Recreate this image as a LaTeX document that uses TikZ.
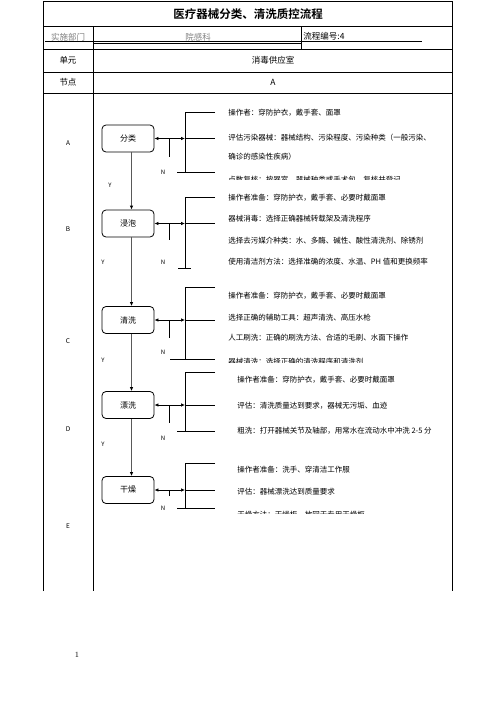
\documentclass[tikz,border=0pt]{standalone}
\usepackage{fontspec}
\newfontfamily\cjk{Noto Sans CJK SC}
\newfontfamily\cjkbf{Noto Sans CJK SC Bold}
\usetikzlibrary{arrows.meta}

\begin{document}
\begin{tikzpicture}[x=1pt, y=-1pt, line width=.8pt,
		stepbox/.style={draw, rounded corners=4pt, minimum width=52pt, minimum height=27pt, inner sep=0pt, font=\cjk\fontsize{8}{9}\selectfont},
		cell/.style={inner sep=0pt, font=\cjk\fontsize{8.5}{10}\selectfont},
		note/.style={anchor=west, inner sep=0pt, font=\cjk\fontsize{7.5}{9}\selectfont},
		yn/.style={inner sep=0pt, font=\cjk\fontsize{6}{7}\selectfont},
		flow/.style={draw=black!65, line width=.9pt, -{Latex[length=4pt,width=3.5pt,color=black]}},
		twoway/.style={line width=.7pt, {Latex[length=4pt,width=3.5pt]}-{Latex[length=4pt,width=3.5pt]}}]
	\useasboundingbox (0,0) rectangle (496,702);
	% table
	\draw (43,591) -- (43,1.5) -- (452,1.5) -- (452,591);
	\draw (93,26) -- (93,591);
	\foreach \y in {26,49,72,93} \draw (43,\y) -- (452,\y);
	\draw (301,26) -- (301,49);
	\draw (45,41) -- (422,41);
	\draw (93,43.5) -- (301,43.5);
	\node[font=\cjkbf\fontsize{11.5}{13}\selectfont] (title) at (248,14) {医疗器械分类、清洗质控流程};
	\node[cell, gray] (dept) at (68,37) {实施部门};
	\node[cell, gray] (deptval) at (198,37) {院感科};
	\node[cell, anchor=west] (code) at (303,36) {流程编号:4};
	\node[cell] (unit) at (68,60) {单元};
	\node[cell] (unitval) at (273,60) {消毒供应室};
	\node[cell] (nodehd) at (68,82) {节点};
	\node[cell] (nodeval) at (273,82) {A};
	\foreach \l/\y in {A/143,B/229,C/341,D/429,E/526}
		\node[yn, font=\cjk\fontsize{6.5}{7}\selectfont] (row\l) at (68,\y) {\l};
	% flow
	\node[stepbox] (fenlei) at (128,138.5) {分类};
	\node[stepbox] (jinpao) at (128,223.5) {浸泡};
	\node[stepbox] (qingxi) at (128,320) {清洗};
	\node[stepbox] (piaoxi) at (128,405) {漂洗};
	\node[stepbox] (ganzao) at (128,490) {干燥};
	\foreach \a/\b in {fenlei/jinpao, jinpao/qingxi, qingxi/piaoxi, piaoxi/ganzao}
		\draw[flow] ([xshift=3.5pt]\a.south) -- ([xshift=3.5pt]\b.north);
	\foreach \n/\y/\t/\b/\k/\l/\r in {fenlei/138.5/112/172/157/177/215, jinpao/223.5/197/268/240/178/191,
			qingxi/320/287/359/338/170/215, piaoxi/405/372/431/423/177/215, ganzao/490/463/508/496/177/215}{
		\coordinate (\n-br) at (185,\y);
		\draw[twoway] (\n.east) -- (\n-br);
		\draw (\n-br) -- (215,\y);
		\draw (215,\t) -- (185,\t) -- (185,\b);
		\draw (\l,\b) -- (\r,\b);
		\draw (169,\y) -- (169,\k);
	}
	\node[note] (fl1) at (228,113) {操作者：穿防护衣，戴手套、面罩};
	\node[note] (fl2) at (228,138) {评估污染器械：器械结构、污染程度、污染种类（一般污染、};
	\node[note] (fl3) at (228,157) {确诊的感染性疾病）};
	\node[note] (jp1) at (228,198) {操作者准备：穿防护衣，戴手套、必要时戴面罩};
	\node[note] (jp2) at (228,219) {器械消毒：选择正确器械转载架及清洗程序};
	\node[note] (jp3) at (228,241) {选择去污媒介种类：水、多酶、碱性、酸性清洗剂、除锈剂};
	\node[note] (jp4) at (228,262) {使用清洁剂方法：选择准确的浓度、水温、PH 值和更换频率};
	\node[note] (qx1) at (228,296) {操作者准备：穿防护衣，戴手套、必要时戴面罩};
	\node[note] (qx2) at (228,318) {选择正确的辅助工具：超声清洗、高压水枪};
	\node[note] (qx3) at (228,338) {人工刷洗：正确的刷洗方法、合适的毛刷、水面下操作};
	\node[note] (px1) at (237,380) {操作者准备：穿防护衣，戴手套、必要时戴面罩};
	\node[note] (px2) at (237,406) {评估：清洗质量达到要求，器械无污垢、血迹};
	\node[note] (px3) at (237,431) {粗洗：打开器械关节及轴部，用常水在流动水中冲洗 2-5 分};
	\node[note] (gz1) at (237,470) {操作者准备：洗手、穿清洁工作服};
	\node[note] (gz2) at (237,492) {评估：器械漂洗达到质量要求};
	\begin{scope}
		\clip (220,0) rectangle (460,179.2);
		\node[note] (fl4) at (228,179.5) {点数复核：按器室，器械种类或手术包，复核并登记};
	\end{scope}
	\begin{scope}
		\clip (220,300) rectangle (460,362);
		\node[note] (qx4) at (228,362) {器械清洗：选择正确的清洗程序和清洗剂};
	\end{scope}
	\begin{scope}
		\clip (220,450) rectangle (460,513.5);
		\node[note] (gz3) at (237,515) {干燥方法：干燥柜，放回于专用干燥柜};
	\end{scope}
	\foreach \x/\y [count=\i] in {110/185,103/262,103/360,103/444}
		\node[yn] (yes\i) at (\x,\y) {Y};
	\foreach \y [count=\i] in {172,262,352,438,508}
		\node[yn] (no\i) at (163,\y) {N};
	\node[font=\fontsize{8}{9}\selectfont] (page) at (77,655) {1};
\end{tikzpicture}
\end{document}
